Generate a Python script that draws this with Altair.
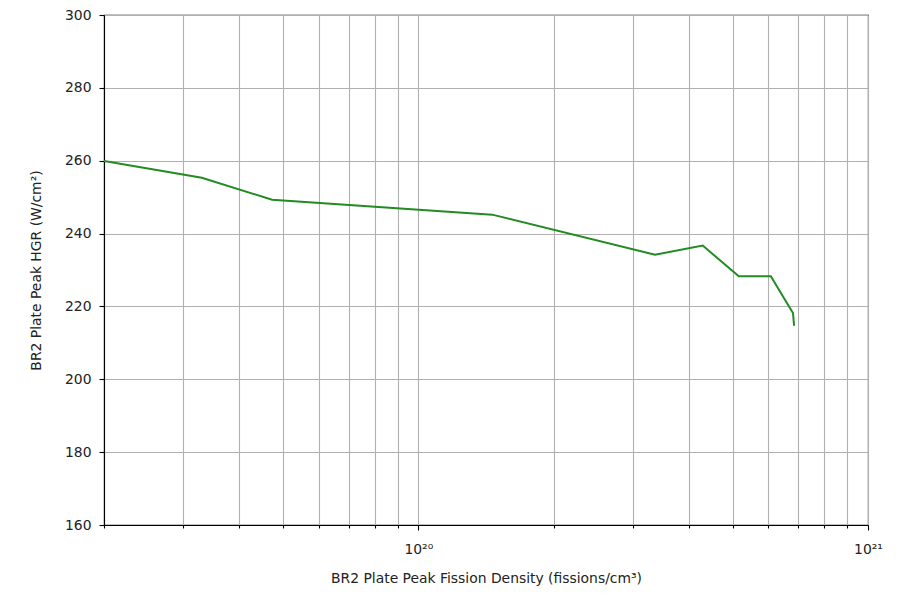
import altair as alt
import pandas as pd

fission_density = [2.0e19, 3.30e19, 4.73e19, 1.46e20, 3.36e20, 4.29e20, 5.16e20, 6.08e20, 6.81e20, 6.85e20]
peak_hgr = [259.9, 255.3, 249.3, 245.2, 234.2, 236.7, 228.3, 228.3, 218.2, 214.7]

x_ticks = [2e19, 3e19, 4e19, 5e19, 6e19, 7e19, 8e19, 9e19,
           1e20, 2e20, 3e20, 4e20, 5e20, 6e20, 7e20, 8e20, 9e20, 1e21]
y_ticks = [160, 180, 200, 220, 240, 260, 280, 300]

df = pd.DataFrame({"fd": fission_density, "hgr": peak_hgr, "order": list(range(len(peak_hgr)))})

FONT = "DejaVu Sans"
is_major = "abs(log(datum.value)/LN10 - round(log(datum.value)/LN10)) < 1e-6"

line = alt.Chart(df).mark_line(color="#228b22", strokeWidth=2, clip=True).encode(
    x=alt.X("fd:Q",
            scale=alt.Scale(type="log", domain=[2e19, 1e21], nice=False),
            axis=alt.Axis(
                title="BR2 Plate Peak Fission Density (fissions/cm³)",
                values=x_ticks,
                labelExpr="datum.value == 1e20 ? '10²⁰' : (datum.value == 1e21 ? '10²¹' : '')",
                tickSize={"condition": {"test": is_major, "value": 5}, "value": 3},
                labelOverlap=False, labelFlush=False,
                labelPadding=12, titlePadding=16,
            )),
    y=alt.Y("hgr:Q",
            scale=alt.Scale(domain=[160, 300], nice=False, zero=False),
            axis=alt.Axis(title="BR2 Plate Peak HGR (W/cm²)", values=y_ticks,
                          tickSize=5, labelPadding=8, titlePadding=21)),
    order="order:Q",
)

chart = line.properties(
    width=764, height=510,
    padding={"left": 96, "top": 7, "right": 20, "bottom": 62},
    autosize=alt.AutoSizeParams(type="none"),
    background="white",
).configure_view(
    stroke="black", strokeWidth=1.1,
).configure_axis(
    labelFont=FONT, titleFont=FONT, labelFontSize=13.9, titleFontSize=13.9,
    labelColor="#222222", titleColor="#222222", titleFontWeight="normal",
    grid=True, gridColor="#b0b0b0", gridWidth=1.1,
    domainColor="black", domainWidth=1.1, tickColor="black", tickWidth=1.1,
)

chart.save("out.html", embed_options={"renderer": "svg", "actions": False})
